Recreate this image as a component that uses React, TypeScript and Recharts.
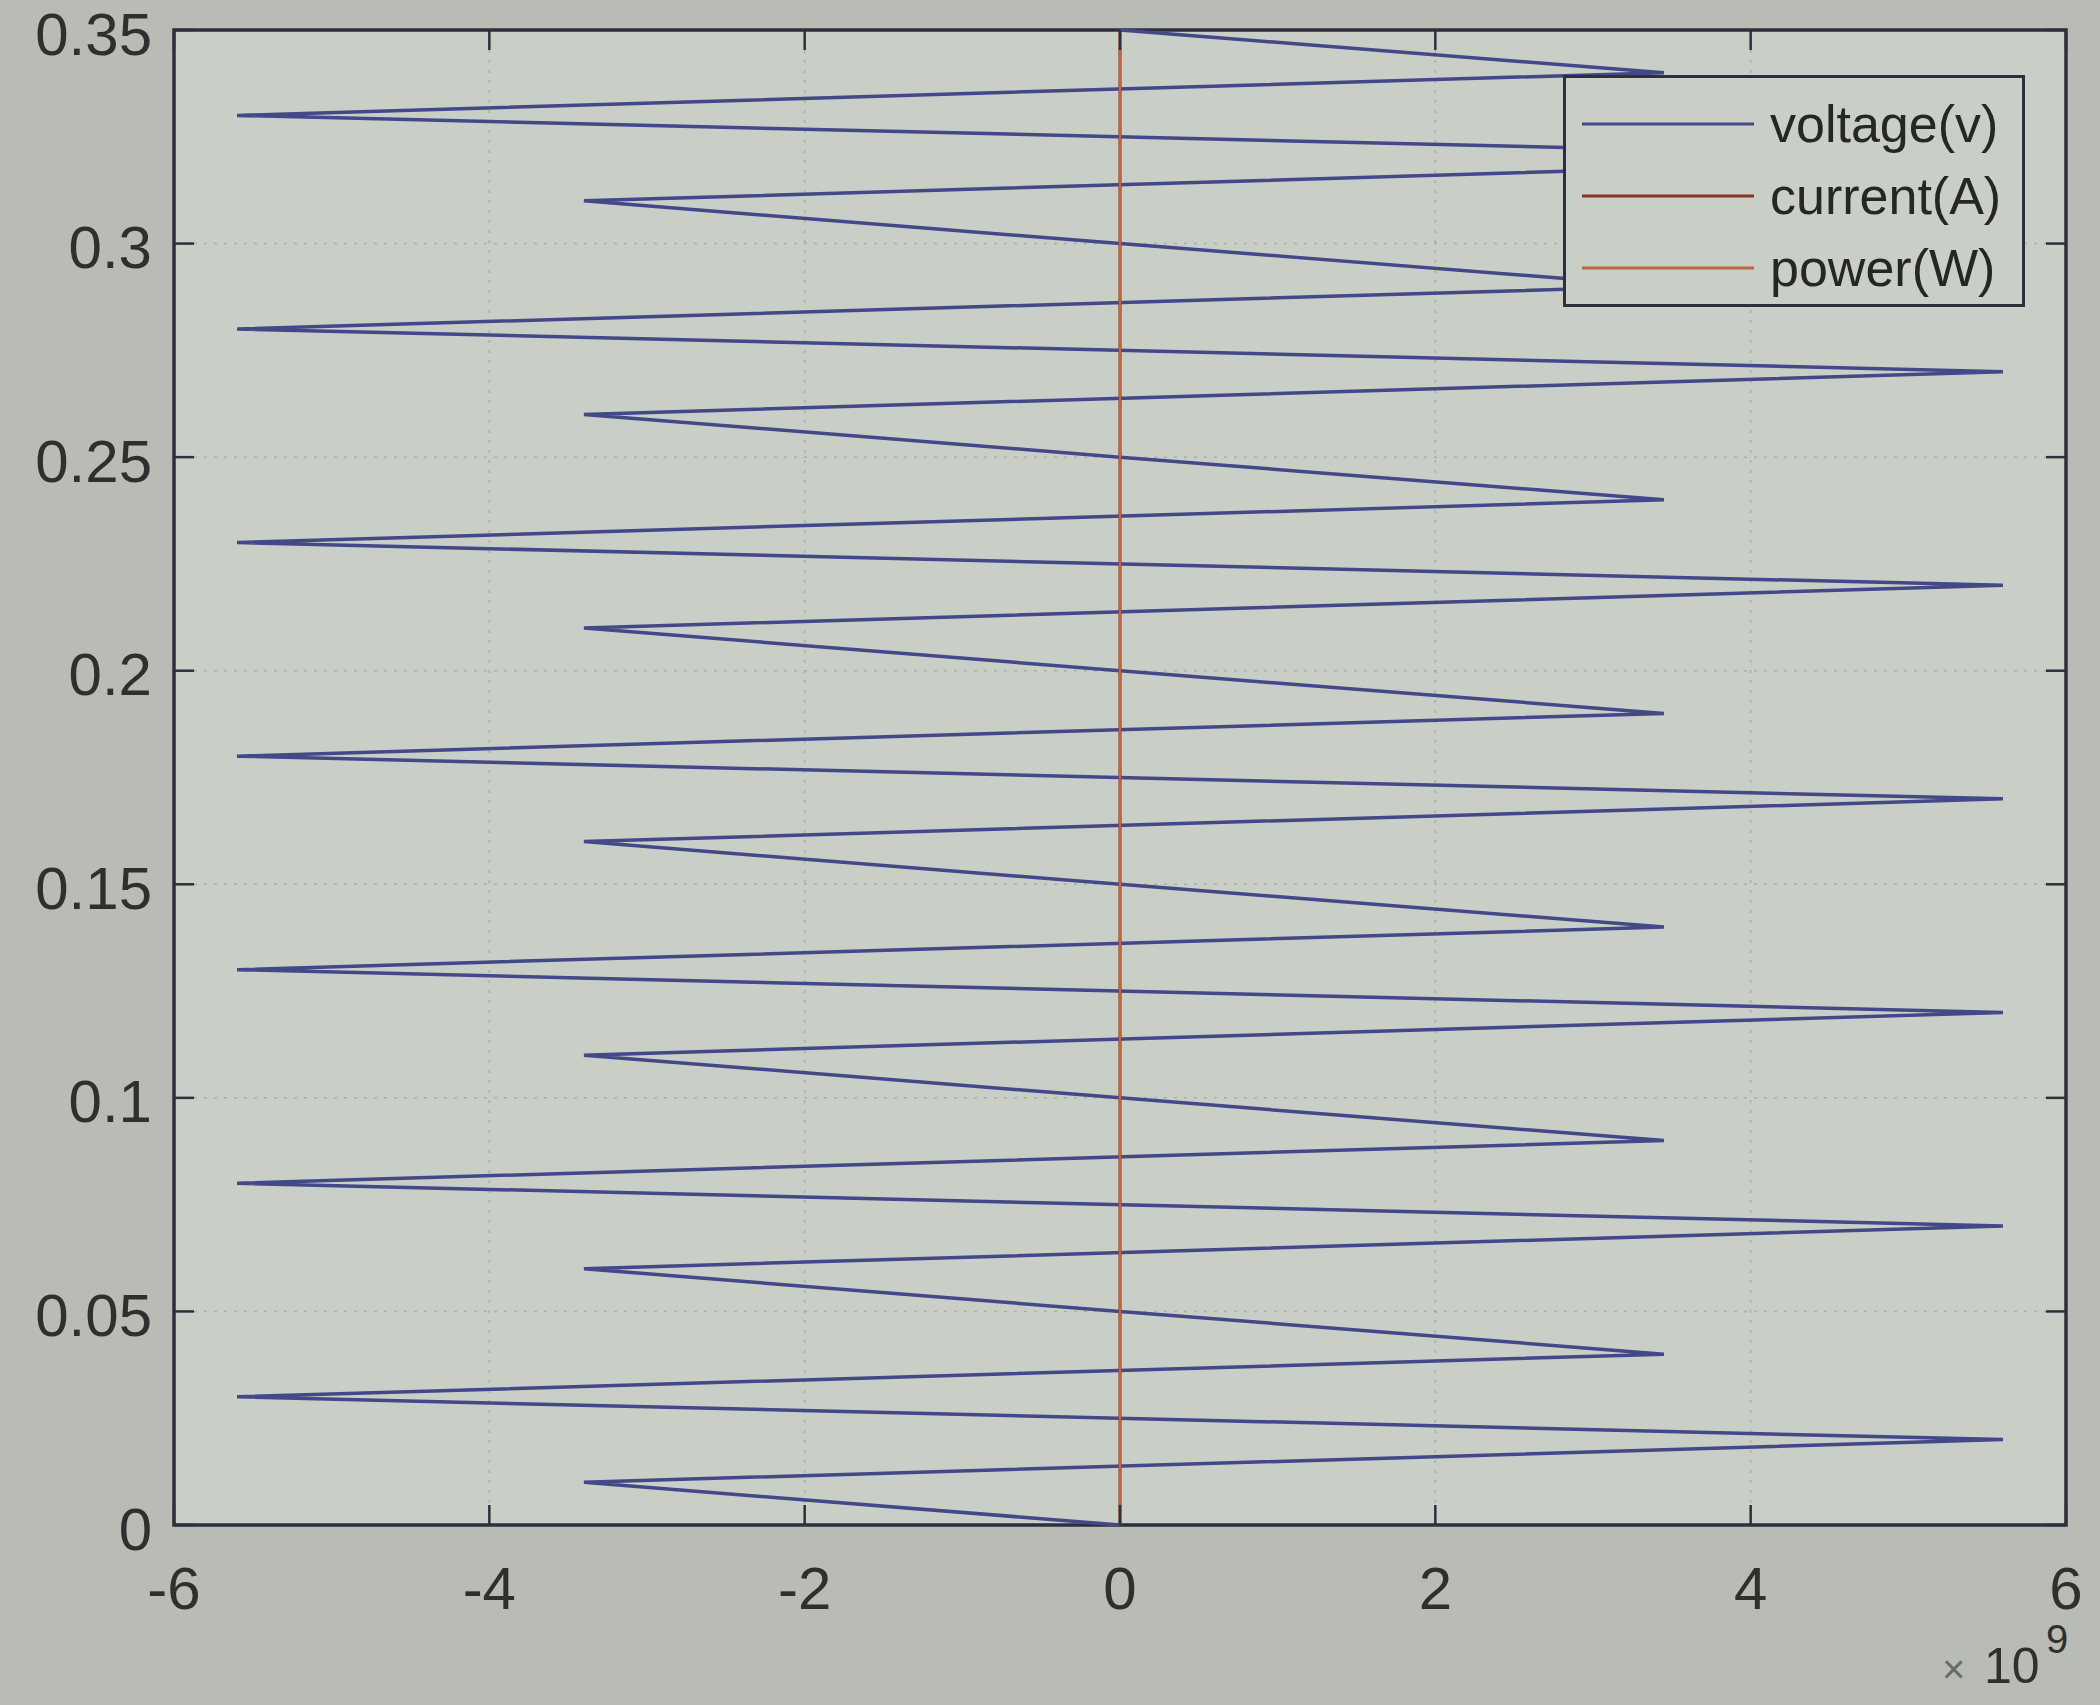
import { CartesianGrid, Legend, ReferenceArea, Scatter, ScatterChart, XAxis, YAxis } from 'recharts'

// time axis (s), plotted vertically
const time = [
  0, 0.01, 0.02, 0.03, 0.04, 0.05, 0.06, 0.07, 0.08, 0.09, 0.1, 0.11, 0.12, 0.13, 0.14, 0.15, 0.16, 0.17,
  0.18, 0.19, 0.2, 0.21, 0.22, 0.23, 0.24, 0.25, 0.26, 0.27, 0.28, 0.29, 0.3, 0.31, 0.32, 0.33, 0.34, 0.35,
]
// voltage samples
const voltage = [
  0, -3.4e9, 5.6e9, -5.6e9, 3.45e9, 0, -3.4e9, 5.6e9, -5.6e9, 3.45e9, 0, -3.4e9, 5.6e9, -5.6e9, 3.45e9, 0, -3.4e9, 5.6e9,
  -5.6e9, 3.45e9, 0, -3.4e9, 5.6e9, -5.6e9, 3.45e9, 0, -3.4e9, 5.6e9, -5.6e9, 3.45e9, 0, -3.4e9, 5.6e9, -5.6e9, 3.45e9, 0,
]
// current / power are tiny next to 1e9, they sit on x = 0
const flatTime = [0, 0.35]
const current = [0, 0]
const power = [0, 0]

const seriesNames = ['voltage(v)', 'current(A)', 'power(W)']
const seriesColors = ['#434889', '#8c3527', '#b8673f']

const xTicks = [-6e9, -4e9, -2e9, 0, 2e9, 4e9, 6e9]
const yTicks = [0, 0.05, 0.1, 0.15, 0.2, 0.25, 0.3, 0.35]

const W = 2100
const H = 1705
const M = { top: 30, right: 34, bottom: 0, left: 0 }
const Y_W = 174
const X_H = 180
const PLOT_W = W - M.left - M.right - Y_W
const PLOT_H = H - M.top - M.bottom - X_H
const TICK = 20
const INK = '#2d2f3d'
const TEXT = '#2f2f2f'
const FONT = '"Liberation Sans", Arial, sans-serif'
const OUTER_BG = '#b9bcb5'
const PLOT_BG = '#c9cfc7'

const voltageRows = time.map((t, i) => ({ v: voltage[i], t }))
const currentRows = flatTime.map((t, i) => ({ v: current[i], t }))
const powerRows = flatTime.map((t, i) => ({ v: power[i], t }))

const fmtY = (v: number) => String(Number(v.toFixed(2)))
const fmtX = (v: number) => String(Math.round(v / 1e9))

function XTick({ x, y, payload }: any) {
  return (
    <g>
      <line x1={x} x2={x} y1={y} y2={y - TICK} stroke={INK} strokeWidth={2.5} />
      <line x1={x} x2={x} y1={y - PLOT_H} y2={y - PLOT_H + TICK} stroke={INK} strokeWidth={2.5} />
      <text x={x} y={y + 63} textAnchor="middle" dominantBaseline="central" fontSize={60} fill={TEXT} fontFamily={FONT}>
        {fmtX(payload.value)}
      </text>
    </g>
  )
}

function YTick({ x, y, payload }: any) {
  return (
    <g>
      <line x1={x} x2={x + TICK} y1={y} y2={y} stroke={INK} strokeWidth={2.5} />
      <line x1={x + PLOT_W} x2={x + PLOT_W - TICK} y1={y} y2={y} stroke={INK} strokeWidth={2.5} />
      <text x={x - 22} y={y + 4} textAnchor="end" dominantBaseline="central" fontSize={60} fill={TEXT} fontFamily={FONT}>
        {fmtY(payload.value)}
      </text>
    </g>
  )
}

function Exponent({ viewBox }: any) {
  const right = viewBox.x + viewBox.width
  const base = viewBox.y + 158
  return (
    <text fontFamily={FONT} fill={TEXT}>
      <tspan x={right - 124} y={base} fontSize={40} fill="#6a6a6a">×</tspan>
      <tspan x={right - 82} y={base} fontSize={50}>10</tspan>
      <tspan x={right - 20} y={base - 30} fontSize={40}>9</tspan>
    </text>
  )
}

function LegendBox({ payload }: any) {
  const items = [...(payload ?? [])].sort(
    (a: any, b: any) => seriesNames.indexOf(a.value) - seriesNames.indexOf(b.value),
  )
  return (
    <div
      style={{
        width: 462,
        height: 232,
        boxSizing: 'border-box',
        border: `3.5px solid ${INK}`,
        background: PLOT_BG,
        paddingTop: 10,
      }}
    >
      {items.map((it: any) => (
        <div key={it.value} style={{ display: 'flex', alignItems: 'center', height: 72 }}>
          <svg width={200} height={10} style={{ marginLeft: 16 }}>
            <line x1={0} x2={172} y1={5} y2={5} stroke={it.color} strokeWidth={3} />
          </svg>
          <span style={{ fontFamily: FONT, fontSize: 52, color: '#262626', marginLeft: -12 }}>{it.value}</span>
        </div>
      ))}
    </div>
  )
}

export default function App() {
  return (
    <div style={{ position: 'absolute', left: 0, top: 0, width: W, height: H, background: OUTER_BG }}>
      <ScatterChart width={W} height={H} margin={M}>
        <CartesianGrid fill={PLOT_BG} stroke="#8e958d" strokeOpacity={0.55} strokeDasharray="3 7" strokeWidth={1.5} />
        <XAxis
          type="number"
          dataKey="v"
          domain={[-6e9, 6e9]}
          ticks={xTicks}
          interval={0}
          height={X_H}
          axisLine={false}
          tickLine={false}
          tickSize={0}
          tickMargin={0}
          tick={(p: any) => <XTick {...p} />}
          label={{ content: (p: any) => <Exponent {...p} /> }}
        />
        <YAxis
          type="number"
          dataKey="t"
          domain={[0, 0.35]}
          ticks={yTicks}
          interval={0}
          width={Y_W}
          axisLine={false}
          tickLine={false}
          tickSize={0}
          tickMargin={0}
          tick={(p: any) => <YTick {...p} />}
        />
        <ReferenceArea x1={-6e9} x2={6e9} y1={0} y2={0.35} fill="none" stroke={INK} strokeWidth={3.5} />
        <Scatter
          name={seriesNames[0]}
          data={voltageRows}
          fill={seriesColors[0]}
          line={{ stroke: seriesColors[0], strokeWidth: 3.5 }}
          shape={() => <g />}
          isAnimationActive={false}
        />
        <Scatter
          name={seriesNames[1]}
          data={currentRows}
          fill={seriesColors[1]}
          line={{ stroke: seriesColors[1], strokeWidth: 3 }}
          shape={() => <g />}
          isAnimationActive={false}
        />
        <Scatter
          name={seriesNames[2]}
          data={powerRows}
          fill={seriesColors[2]}
          line={{ stroke: seriesColors[2], strokeWidth: 2.5 }}
          shape={() => <g />}
          isAnimationActive={false}
        />
        <Legend
          layout="vertical"
          align="center"
          verticalAlign="middle"
          wrapperStyle={{ top: 75, left: 1563, width: 462, height: 232 }}
          content={(p: any) => <LegendBox {...p} />}
        />
      </ScatterChart>
    </div>
  )
}
